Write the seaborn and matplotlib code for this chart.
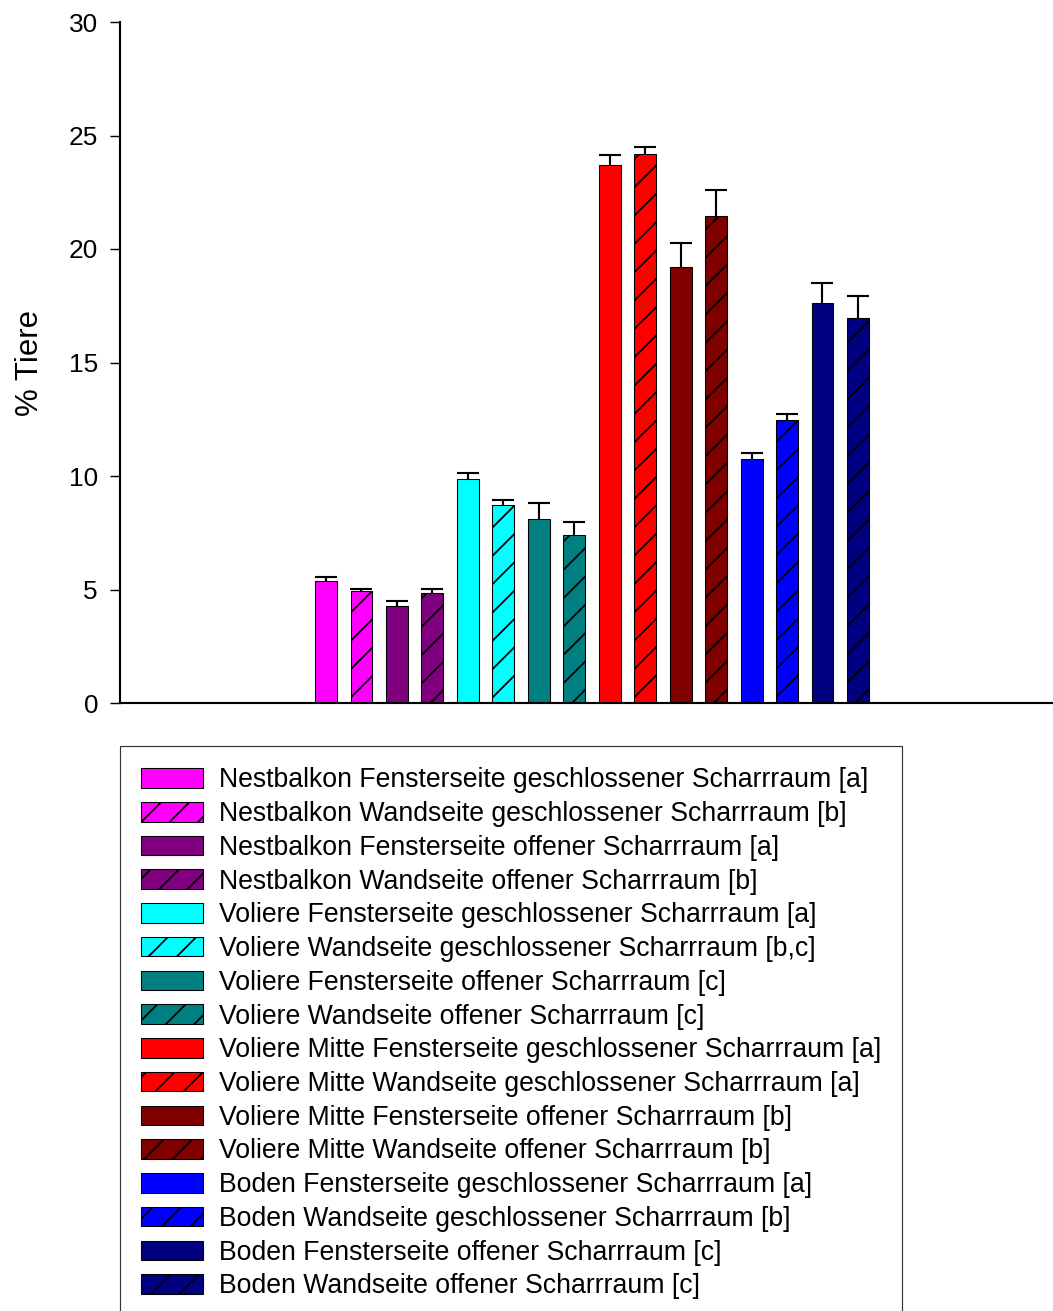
import numpy as np
import pandas as pd
import matplotlib
matplotlib.use("Agg")
import matplotlib.pyplot as plt
from matplotlib.patches import Patch
import seaborn as sns

# Data: share of animals (%) per location, mean and upper SEM
labels = [
    "Nestbalkon Fensterseite geschlossener Scharrraum [a]",
    "Nestbalkon Wandseite geschlossener Scharrraum [b]",
    "Nestbalkon Fensterseite offener Scharrraum [a]",
    "Nestbalkon Wandseite offener Scharrraum [b]",
    "Voliere Fensterseite geschlossener Scharrraum [a]",
    "Voliere Wandseite geschlossener Scharrraum [b,c]",
    "Voliere Fensterseite offener Scharrraum [c]",
    "Voliere Wandseite offener Scharrraum [c]",
    "Voliere Mitte Fensterseite geschlossener Scharrraum [a]",
    "Voliere Mitte Wandseite geschlossener Scharrraum [a]",
    "Voliere Mitte Fensterseite offener Scharrraum [b]",
    "Voliere Mitte Wandseite offener Scharrraum [b]",
    "Boden Fensterseite geschlossener Scharrraum [a]",
    "Boden Wandseite geschlossener Scharrraum [b]",
    "Boden Fensterseite offener Scharrraum [c]",
    "Boden Wandseite offener Scharrraum [c]",
]
means = [5.37, 4.92, 4.27, 4.83, 9.87, 8.72, 8.09, 7.39,
         23.70, 24.17, 19.22, 21.44, 10.75, 12.45, 17.62, 16.97]
errors = [0.18, 0.10, 0.22, 0.21, 0.28, 0.24, 0.73, 0.58,
          0.45, 0.33, 1.06, 1.16, 0.28, 0.27, 0.88, 0.94]
colors = ["#FF00FF", "#FF00FF", "#800080", "#800080",
          "#00FFFF", "#00FFFF", "#008080", "#008080",
          "#FF0000", "#FF0000", "#800000", "#800000",
          "#0000FF", "#0000FF", "#000080", "#000080"]
hatches = ["", "//", "", "//", "", "//", "", "//",
           "", "//", "", "//", "", "//", "", "//"]
y_ticks = [0, 5, 10, 15, 20, 25, 30]
y_label = "% Tiere"

DPI = 170
W, H = 1053, 1311

sns.set_theme(style="white")
plt.rcParams["font.family"] = ["Liberation Sans", "DejaVu Sans"]
plt.rcParams["hatch.linewidth"] = 0.75
plt.rcParams["hatch.color"] = "black"
for key in ["text.color", "axes.labelcolor", "xtick.color", "ytick.color"]:
    plt.rcParams[key] = "black"

df = pd.DataFrame({"label": labels, "value": means})

fig = plt.figure(figsize=(W / DPI, H / DPI), dpi=DPI)
ax = fig.add_axes([120 / W, 1 - 703 / H, 1 - 120 / W, (703 - 22) / H])

sns.barplot(data=df, x="label", y="value", hue="label", order=labels,
            hue_order=labels, palette=colors, width=0.62, errorbar=None,
            legend=False, edgecolor="black", linewidth=0.45, ax=ax,
            saturation=1)

for patch, h in zip(ax.patches, hatches):
    patch.set_hatch(h)

# upper error bars only
xpos = np.arange(len(labels))
eb = ax.errorbar(xpos, means, yerr=[np.zeros(len(errors)), errors],
                 fmt="none", ecolor="black", elinewidth=0.9,
                 capsize=4.5, capthick=0.9, zorder=5)
for cl in eb[1]:
    if np.allclose(cl.get_ydata(), means):
        cl.set_visible(False)

ax.set_xlim(-5.81, 20.5)
ax.set_ylim(0, 30)
ax.set_yticks(y_ticks)
ax.set_xticks([])
ax.set_xlabel("")
ax.set_ylabel(y_label, fontsize=13.2, labelpad=10)
ax.tick_params(axis="y", which="major", direction="out", length=4.3,
               width=0.6, labelsize=11.1, pad=5, left=True, colors="black")
for side in ["top", "right"]:
    ax.spines[side].set_visible(False)
for side in ["left", "bottom"]:
    ax.spines[side].set_color("black")
    ax.spines[side].set_linewidth(0.9)

handles = [Patch(facecolor=c, edgecolor="black", hatch=h, linewidth=0.45)
           for c, h in zip(colors, hatches)]
leg = fig.legend(handles, labels, loc="upper left",
                 bbox_to_anchor=(120 / W, 1 - 746 / H),
                 bbox_transform=fig.transFigure, borderaxespad=0,
                 fontsize=11.3, frameon=True, fancybox=False,
                 handlelength=2.3, handleheight=0.75, handletextpad=0.6,
                 borderpad=0.8, labelspacing=0.29)
leg.get_frame().set_edgecolor("black")
leg.get_frame().set_linewidth(0.5)

fig.savefig("out.png", dpi=DPI)
